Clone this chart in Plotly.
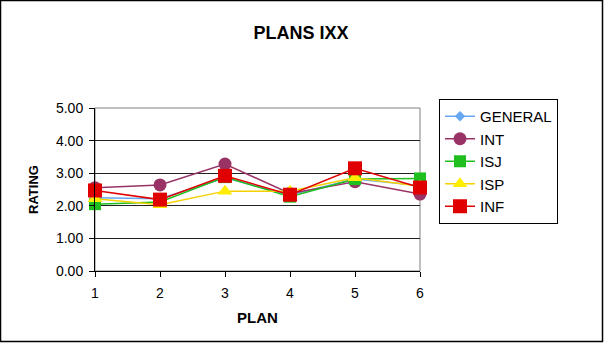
import plotly.graph_objects as go

# Plan numbers along the x axis
plans = [1, 2, 3, 4, 5, 6]

# Average rating per plan for each group
general = [2.25, 2.22, 2.86, 2.33, 2.82, 2.62]
int_ = [2.55, 2.64, 3.28, 2.38, 2.74, 2.36]
isj = [2.05, 2.12, 2.88, 2.28, 2.82, 2.84]
isp = [2.22, 2.03, 2.45, 2.45, 2.86, 2.60]
inf = [2.47, 2.19, 2.92, 2.34, 3.15, 2.56]

y_ticks = [0, 1, 2, 3, 4, 5]

FONT = "Liberation Sans, Arial, sans-serif"

W, H = 604, 343
L, R, T, B = 95, 184, 108, 72

series = [
    ("GENERAL", general, "#66A8F0", "#66A8F0", "diamond", 8),
    ("INT", int_, "#993366", "#993366", "circle", 13),
    ("ISJ", isj, "#1FBF1F", "#1FBF1F", "square", 12),
    ("ISP", isp, "#F5D000", "#FFEE00", "triangle-up", 13),
    ("INF", inf, "#E00000", "#E00000", "square", 14),
]

fig = go.Figure()
for name, vals, lc, mc, sym, sz in series:
    fig.add_trace(go.Scatter(
        x=plans, y=vals, name=name, mode="lines+markers",
        line=dict(color=lc, width=1.5),
        marker=dict(symbol=sym, size=sz, color=mc, line=dict(width=0)),
        cliponaxis=False,
    ))

pw = W - L - R
ph = H - T - B

fig.update_layout(
    width=W, height=H,
    margin=dict(l=L, r=R, t=T, b=B, autoexpand=False),
    paper_bgcolor="white", plot_bgcolor="white",
    font=dict(family=FONT, size=14, color="black"),
    title=dict(text="<b>PLANS IXX</b>", x=301 / W, xanchor="center",
               y=1 - 33 / H, yanchor="middle",
               font=dict(family=FONT, size=18, color="black")),
    xaxis=dict(
        range=[1, 6], tickvals=plans, ticktext=[str(p) for p in plans],
        showgrid=False, zeroline=False,
        showline=True, linecolor="black", linewidth=1,
        ticks="outside", ticklen=5, tickcolor="black",
        ticklabelstandoff=4,
        tickfont=dict(family=FONT, size=14),
        title=dict(text="<b>PLAN</b>", standoff=12,
                   font=dict(family=FONT, size=15)),
        fixedrange=True,
    ),
    yaxis=dict(
        range=[0, 5], tickvals=y_ticks, tickformat=".2f",
        showgrid=True, gridcolor="#222222", gridwidth=1,
        zeroline=False,
        showline=True, linecolor="black", linewidth=1,
        ticks="outside", ticklen=5, tickcolor="black",
        ticklabelstandoff=3,
        tickfont=dict(family=FONT, size=14),
        title=dict(text="<b>RATING</b>", standoff=14,
                   font=dict(family=FONT, size=13)),
        fixedrange=True,
    ),
    legend=dict(
        x=(439 - L) / pw, xanchor="left",
        y=(H - B - 99) / ph, yanchor="top",
        bordercolor="black", borderwidth=1, bgcolor="white",
        font=dict(family=FONT, size=15),
        itemwidth=30, tracegroupgap=0,
    ),
    showlegend=True,
)

# plot-area frame (gray) and outer chart border
fig.add_shape(type="rect", xref="paper", yref="paper",
              x0=0, x1=1, y0=0, y1=1,
              line=dict(color="#808080", width=1), layer="below")
fig.add_shape(type="rect", xref="paper", yref="paper",
              x0=(0.5 - L) / pw, x1=(W - 1.5 - L) / pw,
              y0=-(B - 1.5) / ph, y1=1 + (T - 0.5) / ph,
              line=dict(color="black", width=1.5), layer="above")

fig.write_html("out.html")
